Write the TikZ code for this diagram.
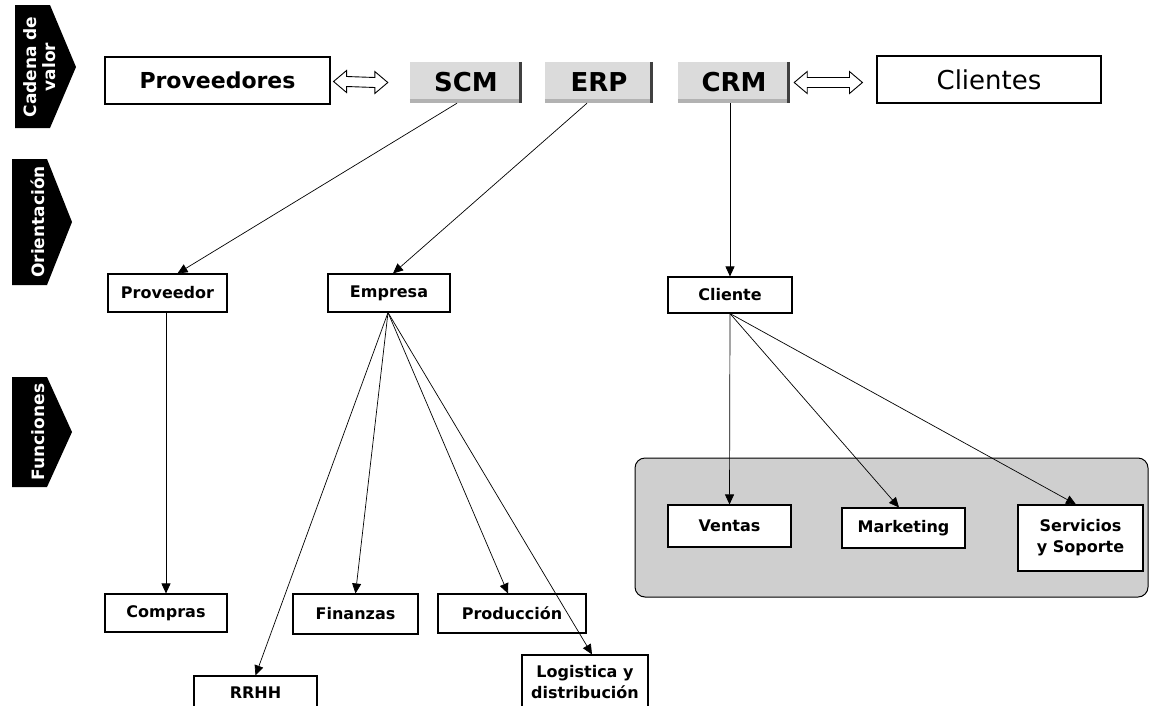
\documentclass[tikz,border=0pt]{standalone}
\usepackage{fontspec}
\setmainfont{DejaVu Sans}
\usetikzlibrary{arrows.meta,calc}
\begin{document}
\begin{tikzpicture}[x=1pt,y=-1pt,
 box/.style={draw,line width=1.1pt,fill=white,inner sep=0pt,align=center,font=\bfseries\fontsize{16}{21}\selectfont},
 bigbox/.style={draw,line width=1.1pt,fill=white,inner sep=0pt},
 sys/.style={fill=gray!28,inner sep=0pt,font=\bfseries\fontsize{26}{30}\selectfont},
 arr/.style={-{Triangle[length=10pt,width=9pt]},line width=0.7pt},
 tagshape/.style={fill=black},
 tagtext/.style={text=white,rotate=90,font=\bfseries\fontsize{17}{19}\selectfont,align=center},
 dbl/.style={draw,line width=0.9pt,fill=white},
 panelbox/.style={draw,line width=1pt,rounded corners=10pt,fill=gray!38,inner sep=0pt}
]
\useasboundingbox (0,0) rectangle (1151,705);
\fill[white] (0,0) rectangle (1151,705);

% left tags
\fill[tagshape] (15,5) -- (50,5) -- (76,67) -- (50,128) -- (15,128) -- cycle;
\node[tagtext] (tcad) at (40,67) {Cadena de\\valor};
\fill[tagshape] (12,159) -- (47,159) -- (72,222) -- (47,285) -- (12,285) -- cycle;
\node[tagtext] (tori) at (38,222) {Orientación};
\fill[tagshape] (12,377) -- (47,377) -- (72,432) -- (47,487) -- (12,487) -- cycle;
\node[tagtext] (tfun) at (38,432) {Funciones};

% top row
\node[bigbox,minimum width=225pt,minimum height=47pt,font=\bfseries\fontsize{22}{26}\selectfont] (provs) at (217.5,80.5) {Proveedores};
\node[bigbox,minimum width=224pt,minimum height=47pt,font=\fontsize{26}{30}\selectfont] (clis) at (989,79.5) {Clientes};
\node[sys,minimum width=112pt,minimum height=41pt] (scm) at (466,82.5) {SCM};
\node[sys,minimum width=108pt,minimum height=41pt] (erp) at (599,82.5) {ERP};
\node[sys,minimum width=112pt,minimum height=41pt] (crm) at (734,82.5) {CRM};
\foreach \n in {scm,erp,crm}{
  \draw[line width=4pt,gray!60] ($(\n.south west)+(0,-2)$) -- ($(\n.south east)+(0,-2)$);
  \draw[line width=3pt,black!75] ($(\n.north east)+(-1.5,0)$) -- ($(\n.south east)+(-1.5,0)$);
}

% double arrows
\coordinate (d1a) at ($(provs.east)+(3,1)$);
\coordinate (d1b) at ($(scm.west)+(-22,0)$);
\coordinate (d2a) at ($(crm.east)+(4,0)$);
\coordinate (d2b) at ($(clis.west)+(-14,3)$);
\foreach \a/\b in {d1a/d1b,d2a/d2b}{
  \draw[dbl] (\a) -- ++(13,-11) -- ++(0,6) -- ($(\b)+(-13,-5)$) -- ++(0,-6) -- (\b)
    -- ++(-13,11) -- ++(0,-6) -- ($(\a)+(13,5)$) -- ++(0,6) -- cycle;
}

% second row
\node[box,minimum width=119pt,minimum height=38pt] (provo) at (167.5,293) {Proveedor};
\node[box,minimum width=122pt,minimum height=38pt] (emp) at (389,293) {Empresa};
\node[box,minimum width=124pt,minimum height=36pt] (cli) at (730,295) {Cliente};

% panel
\node[panelbox,minimum width=513pt,minimum height=139pt] (panel) at (891.5,527.5) {};

% third row
\node[box,minimum width=122pt,minimum height=38pt] (comp) at (166,613) {Compras};
\node[box,minimum width=125pt,minimum height=40pt] (fin) at (355.5,614) {Finanzas};
\node[box,minimum width=148pt,minimum height=39pt] (prod) at (512,613.5) {Producción};
\node[box,minimum width=123pt,minimum height=34pt] (rrhh) at (255.5,693) {RRHH};
\node[box,minimum width=126pt,minimum height=54pt] (log) at (585,682) {Logistica y\\distribución};
\node[box,minimum width=123pt,minimum height=42pt] (ven) at (729.5,526) {Ventas};
\node[box,minimum width=123pt,minimum height=40pt] (mkt) at (903.5,528) {Marketing};
\node[box,minimum width=125pt,minimum height=66pt] (serv) at (1080.5,538) {Servicios\\y Soporte};

% connectors
\draw[arr] ($(scm.south)+(-9,0)$) -- ($(provo.north)+(10,0)$);
\draw[arr] ($(erp.south)+(-12,0)$) -- ($(emp.north)+(4,0)$);
\draw[arr] (cli.north |- crm.south) -- (cli.north);
\draw[arr] (comp.north |- provo.south) -- (comp.north);
\coordinate (es) at ($(emp.south)+(-1,0)$);
\draw[arr] (es) -- (rrhh.north);
\draw[arr] (es) -- (fin.north);
\draw[arr] (es) -- ($(prod.north)+(-4,0)$);
\draw[arr] (es) -- ($(log.north)+(7,0)$);
\draw[arr] (cli.south) -- (ven.north);
\draw[arr] (cli.south) -- ($(mkt.north)+(-4.5,0)$);
\draw[arr] (cli.south) -- ($(serv.north)+(-4.5,0)$);
\end{tikzpicture}
\end{document}
